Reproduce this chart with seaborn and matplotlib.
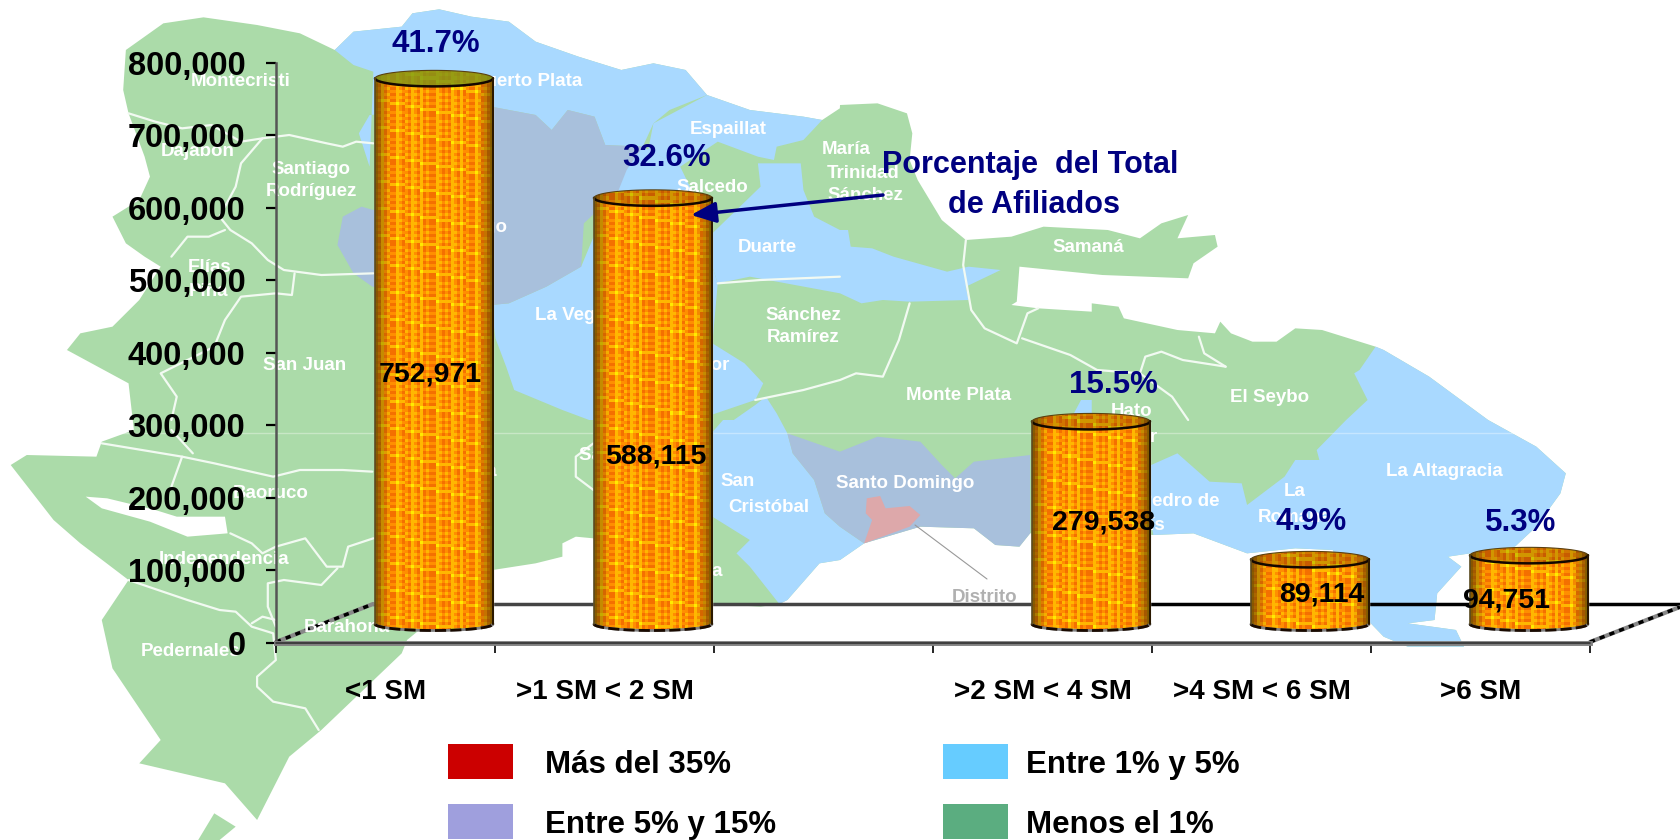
import numpy as np
import pandas as pd
import seaborn as sns
import matplotlib
matplotlib.use("Agg")
import matplotlib.pyplot as plt
from matplotlib.patches import Polygon, Rectangle, PathPatch
from matplotlib.path import Path
from matplotlib.transforms import Affine2D

# datos
categorias = ["<1 SM", ">1 SM < 2 SM", " ", ">2 SM < 4 SM", ">4 SM < 6 SM", ">6 SM"]
afiliados = [752971, 588115, np.nan, 279538, 89114, 94751]
etiquetas = ["752,971", "588,115", "", "279,538", "89,114", "94,751"]
porcentajes = ["41.7%", "32.6%", "", "15.5%", "4.9%", "5.3%"]
y_ticks = [0, 100000, 200000, 300000, 400000, 500000, 600000, 700000, 800000]

leyenda = ["Más del 35%", "Entre 5% y 15%", "Entre 1% y 5%", "Menos el 1%"]
leyenda_col = ["#CC0000", "#9F9FDD", "#66CCFF", "#5BAD80"]

VERDE = "#ABDBA9"
AZUL = "#A9D9FF"
GRIS = "#A8C0DC"
ROSA = "#DDA8AA"
NAVY = "#000080"
NARROW = ["Liberation Sans Narrow", "Liberation Sans", "DejaVu Sans"]


# las coordenadas del mapa se leyeron de los recortes (x/1.867, y/3)
def z1(*p):
    return [(x / 1.867, y / 3) for x, y in p]
def z2(*p):
    return [(840 + x / 1.867, y / 3) for x, y in p]
def z3(*p):
    return [(x / 1.867, 420 + y / 3) for x, y in p]
def z4(*p):
    return [(840 + x / 1.867, 420 + y / 3) for x, y in p]


isla = (
    z1((235, 150), (305, 70), (380, 52), (480, 75), (560, 100), (625, 150), (660, 95), (750, 80), (770, 40),
       (820, 28), (880, 50), (950, 65), (1000, 125), (1080, 170), (1160, 210), (1220, 190), (1280, 210),
       (1320, 285), (1400, 330), (1500, 350), (1535, 360), (1568, 325))
    + z2((0, 315), (70, 310), (125, 340), (135, 400), (130, 480), (145, 540), (190, 660), (235, 720), (320, 710),
         (380, 680), (500, 690), (560, 715), (600, 670), (650, 645), (630, 715), (700, 705), (705, 740),
         (660, 790), (650, 835), (490, 825), (335, 800), (330, 905), (320, 915), (370, 925), (470, 935),
         (470, 910), (520, 920), (530, 955), (630, 990), (700, 1000), (710, 965), (730, 1000), (770, 1025),
         (815, 1025), (850, 985), (900, 990), (1000, 1040), (1015, 1050), (1100, 1130), (1210, 1260))
    + z4((1300, 80), (1355, 160), (1345, 220), (1300, 320), (1260, 380), (1135, 410), (1160, 440), (1115, 520),
         (1110, 600), (1060, 610), (1150, 630), (1165, 680), (1060, 680), (1015, 650), (985, 600), (920, 390),
         (850, 385), (760, 400), (660, 340), (585, 345), (355, 340), (335, 380), (290, 375), (250, 325),
         (150, 320), (45, 370), (0, 420))
    + z3((1530, 430), (1470, 540), (1455, 552), (1420, 560), (1330, 552), (1320, 450), (1108, 355), (1075, 350),
         (1050, 370), (1050, 410), (1000, 430), (920, 450), (760, 660), (750, 700), (600, 930), (540, 1010),
         (480, 1200), (420, 1090), (260, 1030), (300, 960), (210, 745), (190, 600), (240, 480), (150, 370),
         (100, 300), (20, 135), (50, 105), (180, 110), (190, 65), (250, 30))
    + z1((240, 1150), (125, 1050), (150, 1000), (210, 980), (260, 900), (300, 800), (270, 770), (235, 730),
         (210, 650), (260, 600), (280, 530), (270, 470), (240, 340), (230, 270))
)
beata = z3((370, 1260), (400, 1180), (440, 1220), (410, 1260))
lago = z3((160, 230), (190, 265), (280, 305), (350, 350), (425, 340), (420, 290), (330, 290), (290, 270), (200, 235))

azules = [
    # Puerto Plata
    z1((625, 150), (660, 95), (750, 80), (770, 40), (820, 28), (880, 50), (950, 65), (1000, 125), (1080, 170),
       (1160, 210), (1220, 190), (1280, 210), (1320, 285), (1250, 330), (1220, 370), (1200, 440), (1130, 435),
       (1110, 350), (1060, 330), (1030, 390), (1000, 345), (917, 320), (690, 345), (670, 400), (690, 500),
       (697, 215), (660, 195)),
    # Espaillat
    z1((1220, 370), (1320, 285), (1400, 330), (1500, 350), (1535, 360), (1500, 420), (1450, 440), (1445, 480),
       (1415, 470), (1340, 425), (1270, 500), (1210, 450)),
    # Duarte
    z1((1330, 700), (1420, 560), (1415, 490), (1495, 490), (1500, 570), (1520, 650), (1568, 690))
    + z2((15, 690), (20, 740), (60, 745), (100, 770), (200, 815), (240, 800), (300, 810), (235, 860), (240, 900),
         (130, 905), (80, 900), (40, 910), (0, 880))
    + z1((1400, 830), (1340, 850), (1330, 800)),
    # La Vega y Monseñor Nouel
    z1((917, 915), (950, 910), (1020, 860), (1085, 800), (1160, 510), (1200, 440), (1270, 500), (1330, 700),
       (1330, 800), (1340, 850), (1330, 1030), (1390, 1090), (1425, 1150), (1410, 1200), (1300, 1260), (1100, 1260),
       (1050, 1230), (960, 1170), (945, 1100), (925, 1015)),
    # San Cristóbal
    z3((1328, 40), (1350, 0))
    + z1((1370, 1260), (1410, 1215), (1430, 1190), (1450, 1240))
    + z3((1470, 40), (1480, 100), (1520, 180), (1540, 280), (1568, 320))
    + z4((45, 370), (0, 420))
    + z3((1530, 430), (1470, 540), (1455, 552), (1400, 440), (1375, 400), (1400, 360), (1330, 290)),
    # San Pedro, La Romana, La Altagracia
    z2((1015, 1050), (1100, 1130), (1210, 1260))
    + z4((1300, 80), (1355, 160), (1345, 220), (1300, 320), (1260, 380), (1135, 410), (1160, 440), (1115, 520),
         (1110, 600), (1060, 610), (1150, 630), (1165, 680), (1060, 680), (1015, 650), (985, 600), (920, 390),
         (850, 385), (760, 400), (660, 340), (585, 345), (560, 150), (630, 100), (690, 185), (750, 190), (760, 255),
         (830, 170), (850, 120), (895, 120), (890, 90), (945, 0))
    + z2((985, 1200), (960, 1120), (970, 1110), (1000, 1040)),
    # Hato Mayor
    z2((430, 1260), (450, 1200), (470, 1200), (470, 1260)),
]

grises = [
    # Santiago
    z1((917, 320), (1000, 345), (1030, 390), (1060, 330), (1110, 350), (1130, 435), (1200, 440), (1170, 510),
       (1155, 570), (1110, 640), (1090, 670), (1085, 800), (1020, 860), (950, 910), (917, 915), (695, 860),
       (660, 820), (630, 735), (640, 650), (675, 620), (697, 630)),
    # Santo Domingo
    z3((1470, 40), (1568, 95))
    + z4((70, 50), (150, 65), (190, 135), (215, 175), (250, 125), (355, 105), (355, 340), (335, 380), (290, 375),
         (250, 325), (150, 320), (45, 370))
    + z3((1568, 320), (1540, 280), (1520, 180), (1480, 100)),
]

distrito = z4((50, 235), (75, 228), (85, 265), (130, 258), (150, 285), (130, 320), (45, 370), (60, 300), (48, 280))

fronteras = [
    z1((240, 340), (290, 365), (340, 385), (395, 375), (450, 425), (490, 415), (540, 405), (610, 430), (640, 440),
       (665, 425), (697, 430)),
    z1((490, 415), (450, 490), (440, 560), (410, 650), (430, 690), (470, 730), (500, 780), (530, 810), (600, 825),
       (697, 820)),
    z1((320, 770), (350, 710), (390, 710), (420, 690)),
    z1((550, 820), (545, 885), (515, 880), (450, 890), (420, 960), (400, 1040), (300, 1120), (330, 1190), (320, 1260)),
    z3((320, 30), (360, 100)),
    z3((190, 70), (340, 110), (400, 130), (510, 170), (560, 150), (640, 150), (695, 155)),
    z3((340, 110), (320, 200)),
    z3((430, 340), (470, 370), (490, 400), (515, 380), (570, 355), (610, 440), (640, 440), (650, 380), (697, 355)),
    z3((630, 445), (600, 495), (530, 480), (500, 490), (500, 560), (515, 620)),
    z3((240, 480), (350, 540), (410, 570), (440, 575), (470, 620), (510, 640), (515, 720), (480, 770), (480, 800),
       (510, 845), (570, 865), (595, 930)),
    z3((470, 610), (490, 590), (515, 600)),
    z2((235, 720), (230, 795), (245, 930), (270, 985), (330, 1030), (350, 940), (370, 925)),
    z2((340, 1015), (430, 1065), (480, 1110), (560, 1120), (570, 1070), (600, 1055), (640, 1080), (720, 1100)),
    z2((670, 1010), (680, 1060), (720, 1100)),
    z2((560, 1120), (620, 1190), (650, 1260)),
    z2((130, 910), (110, 1020), (80, 1130), (30, 1120), (0, 1140)) + z1((1500, 1170), (1410, 1200)),
    z1((1340, 850), (1420, 840), (1568, 830)),
    z3((1108, 70), (1075, 110), (1075, 170), (1108, 210)),
]

# nombre, x, y
provincias = [
    ("Montecristi", 241, 81), ("Puerto Plata", 528, 81), ("Dajabón", 198, 151), ("Santiago", 311, 169),
    ("Rodríguez", 311, 191), ("Santiago", 468, 228), ("Espaillat", 728, 129), ("María", 846, 150),
    ("Trinidad", 863, 173), ("Sánchez", 865, 195), ("Salcedo", 712, 188), ("Elías", 210, 267), ("Piña", 209, 292),
    ("Duarte", 767, 247), ("Samaná", 1088, 247), ("La Vega", 570, 315), ("Sánchez", 803, 316), ("Ramírez", 803, 338),
    ("San Juan", 305, 365), ("Monseñor", 685, 365), ("Monte Plata", 959, 395), ("El Seybo", 1270, 397),
    ("Hato", 1132, 412), ("Mayor", 1130, 437), ("La Altagracia", 1444, 472), ("La", 1295, 492), ("Romana", 1295, 517),
    ("San Pedro de", 1160, 502), ("Macorís", 1130, 525), ("Santo Domingo", 905, 483), ("San", 738, 482),
    ("Cristóbal", 769, 507), ("Baoruco", 271, 493), ("Independencia", 224, 560), ("Barahona", 347, 628),
    ("Pedernales", 191, 652), ("Azua", 475, 472), ("Peravia", 690, 571), ("San José", 620, 455),
]

sns.set_theme(style="white")
plt.rcParams["font.family"] = NARROW

fig = plt.figure(figsize=(16.8, 8.4), dpi=100, facecolor="white")

# --- mapa de fondo ---
bg = fig.add_axes([0, 0, 1, 1], zorder=0)
bg.set_xlim(0, 1680)
bg.set_ylim(840, 0)
bg.axis("off")
bg.add_patch(Polygon(isla, fc=VERDE, ec="none"))
bg.add_patch(Polygon(beata, fc=VERDE, ec="none"))
bg.add_patch(Polygon(lago, fc="white", ec="none"))
for p in azules:
    bg.add_patch(Polygon(p, fc=AZUL, ec="none"))
for p in grises:
    bg.add_patch(Polygon(p, fc=GRIS, ec="none"))
bg.add_patch(Polygon(distrito, fc=ROSA, ec="none"))
for f in fronteras:
    bg.plot(*zip(*f), color="#F2FAF2", lw=1.6)
for nombre, x, y in provincias:
    bg.text(x, y, nombre, color="white", fontsize=13.5, fontweight="bold", ha="center", va="center",
            family=["Liberation Sans", "DejaVu Sans"])
bg.text(985, 598, "Distrito", color="#B0B0B0", fontsize=13.5, fontweight="bold", ha="center", va="center",
        family=["Liberation Sans", "DejaVu Sans"])
bg.plot([915, 987], [525, 579], color="#999999", lw=0.8)
bg.axhline(433, color="white", lw=1, alpha=0.35)

# piso y pared del fondo del grafico 3D
bg.plot([373, 1150], [604, 604], color="#444444", lw=2.5)
bg.plot([1150, 1680], [604, 604], color="black", lw=2.5)
bg.plot([276, 373], [642, 604], color="#888888", lw=3)
bg.plot([276, 373], [642, 604], color="black", lw=2.5, ls=(0, (1.5, 1.5)))
bg.plot([1590, 1680], [642, 607], color="#888888", lw=3)
bg.plot([1590, 1680], [642, 607], color="black", lw=2.5, ls=(0, (1.5, 1.5)))

# --- barras ---
ax = fig.add_axes([276 / 1680, (840 - 642.7) / 840, (1590 - 276) / 1680, 579.7 / 840], zorder=2)
ax.patch.set_alpha(0)
df = pd.DataFrame({"categoria": categorias, "afiliados": afiliados})
sns.barplot(data=df, x="categoria", y="afiliados", order=categorias, color="#FF9900", width=118 / 219,
            saturation=1, ax=ax)
ax.set_ylim(0, 800000)
ax.set_xlim(-0.5, 5.5)
ax.set_xlabel("")
ax.set_ylabel("")

desplazar = Affine2D().translate(48.5, 18.7)
t_bar = ax.transData + desplazar
px_y = 800000 / 579.7

# tramado a cuadros de la textura: un tono por columna y por fila
TRAMA_COL = [1, 0, 2, 0, 1, 0, 0, 2, 1, 0, 1, 0, 2]
TRAMA_FIL = [1, 0, 1, 0, 0, 2, 0, 1, 0]


def textura(ancho, alto, oscuro=1.0, tinte=None):
    cols = max(int(ancho / 3), 2)
    filas = max(int(alto / 3), 2)
    img = np.zeros((filas, cols, 3))
    base = np.array([1.0, 0.56, 0.0])
    rojo = np.array([0.96, 0.44, 0.0])
    amar = np.array([1.0, 0.72, 0.0])
    lima = np.array([1.0, 0.92, 0.0])
    borde = np.array([0.42, 0.28, 0.0])
    for i in range(filas):
        for j in range(cols):
            a = TRAMA_COL[j % len(TRAMA_COL)] + TRAMA_FIL[(i + j // 5) % len(TRAMA_FIL)]
            c = {0: rojo, 1: base, 2: amar, 3: amar, 4: lima}[a]
            t = (j + 0.5) / cols
            mezcla = min(1.0, min(t, 1 - t) / 0.13) ** 0.7
            img[i, j] = (c * mezcla + borde * (1 - mezcla)) * oscuro
    if tinte is not None:
        img = img * 0.25 + np.array(tinte) * 0.75
    return img


for p in ax.patches:
    val = p.get_height()
    if np.isnan(val) or val == 0:
        continue
    x0 = p.get_x()
    w = p.get_width()
    xc = x0 + w / 2
    p.set_transform(t_bar)
    p.set_zorder(2)
    th = np.linspace(np.pi, 2 * np.pi, 40)
    rb = 6.5 * px_y
    rt = 8 * px_y
    ex = xc + w / 2 * np.cos(th)
    # cuerpo del cilindro
    abajo = np.column_stack([ex, rb * np.sin(th)])
    arriba = np.column_stack([ex[::-1], val + rt * np.sin(th[::-1])])
    cuerpo = np.vstack([abajo, arriba, abajo[:1]])
    ruta = Path(cuerpo)
    alto_px = (val + rb) / px_y
    ancho_px = w * 219
    im = ax.imshow(textura(ancho_px, alto_px), extent=(x0, x0 + w, -rb, val), origin="lower", aspect="auto",
                   interpolation="nearest", zorder=3)
    im.set_transform(t_bar)
    im.set_clip_path(PathPatch(ruta, transform=t_bar))
    # tapa
    th2 = np.linspace(0, 2 * np.pi, 80)
    tapa = Path(np.column_stack([xc + w / 2 * np.cos(th2), val + rt * np.sin(th2)]))
    tinte = (0.52, 0.62, 0.10) if val > 700000 else None
    im2 = ax.imshow(textura(ancho_px, 16, 0.82, tinte), extent=(x0, x0 + w, val - rt, val + rt), origin="lower",
                    aspect="auto", interpolation="nearest", zorder=4)
    im2.set_transform(t_bar)
    im2.set_clip_path(PathPatch(tapa, transform=t_bar))
    ax.plot(ex, val + rt * np.sin(th), color="#140800", lw=1.8, transform=t_bar, zorder=5, clip_on=False)
    ax.plot(ex, val + rt * np.sin(th + np.pi), color="#5A4010", lw=0.8, transform=t_bar, zorder=5, clip_on=False)
    ax.plot(ex, rb * np.sin(th), color="#808080", lw=2, transform=t_bar, zorder=5, clip_on=False)
    ax.plot(ex, rb * np.sin(th), color="#1A0A00", lw=2, ls=(0, (4, 1.5)), transform=t_bar, zorder=5, clip_on=False)
    ax.plot([x0, x0], [0, val], color="#5A4A20", lw=1.2, transform=t_bar, zorder=5, clip_on=False)
    ax.plot([x0 + w, x0 + w], [0, val], color="#2A1800", lw=1.5, transform=t_bar, zorder=5, clip_on=False)

ax.set_xlim(-0.5, 5.5)
ax.set_ylim(0, 800000)

sns.despine(ax=ax, top=True, right=True)
ax.spines["left"].set_color("#555555")
ax.spines["left"].set_linewidth(1.8)
ax.spines["bottom"].set_color("#808080")
ax.spines["bottom"].set_linewidth(3.5)

ax.set_yticks(y_ticks, [f"{v:,}" for v in y_ticks])
ax.set_xticks(np.arange(-0.5, 6), [""] * 7)
ax.set_xticks(np.arange(6), categorias, minor=True)
ax.tick_params(axis="y", left=True, length=7, width=1.6, color="black", pad=15, labelsize=23.5, labelcolor="black")
ax.tick_params(axis="x", which="major", bottom=True, length=7, width=1.2, color="black")
ax.tick_params(axis="x", which="minor", bottom=False, length=0, pad=26, labelsize=20, labelcolor="black")
for t in ax.get_yticklabels() + ax.get_xticklabels(minor=True):
    t.set_fontweight("bold")

# --- textos sobre las barras ---
top = fig.add_axes([0, 0, 1, 1], zorder=3)
top.set_xlim(0, 1680)
top.set_ylim(840, 0)
top.axis("off")
top.plot([276, 1590], [642.5, 642.5], color="#333333", lw=1.2)

x_pct = [436, 667, 0, 1113, 1311, 1521]
y_pct = [44, 158, 0, 385, 522, 523]
x_val = [430, 656, 0, 1104, 1322, 1507]
y_val = [375, 457, 0, 523, 595, 600]
for i in range(len(categorias)):
    if porcentajes[i]:
        top.text(x_pct[i], y_pct[i], porcentajes[i], color=NAVY, fontsize=22.5, fontweight="bold", ha="center", va="center")
        top.text(x_val[i], y_val[i], etiquetas[i], color="black", fontsize=20.5, fontweight="bold", ha="center", va="center")

top.text(1030, 165, "Porcentaje  del Total", color=NAVY, fontsize=22, fontweight="bold", ha="center", va="center")
top.text(1034, 205, "de Afiliados", color=NAVY, fontsize=22, fontweight="bold", ha="center", va="center")
top.annotate("", xy=(691, 215), xytext=(883, 195),
             arrowprops=dict(arrowstyle="-|>,head_length=1.0,head_width=0.42", color=NAVY, lw=2.5,
                             shrinkA=0, shrinkB=0, mutation_scale=15))

# --- leyenda ---
x_caja = [448, 448, 943, 943]
y_caja = [744, 804, 744, 804]
x_txt = [545, 545, 1026, 1026]
y_txt = [765, 825, 765, 825]
for i in range(4):
    top.add_patch(Rectangle((x_caja[i], y_caja[i]), 65, 35, fc=leyenda_col[i], ec="none"))
    top.text(x_txt[i], y_txt[i], leyenda[i], color="black", fontsize=22.5, fontweight="bold", ha="left", va="center")

fig.savefig("out.png", dpi=100)
